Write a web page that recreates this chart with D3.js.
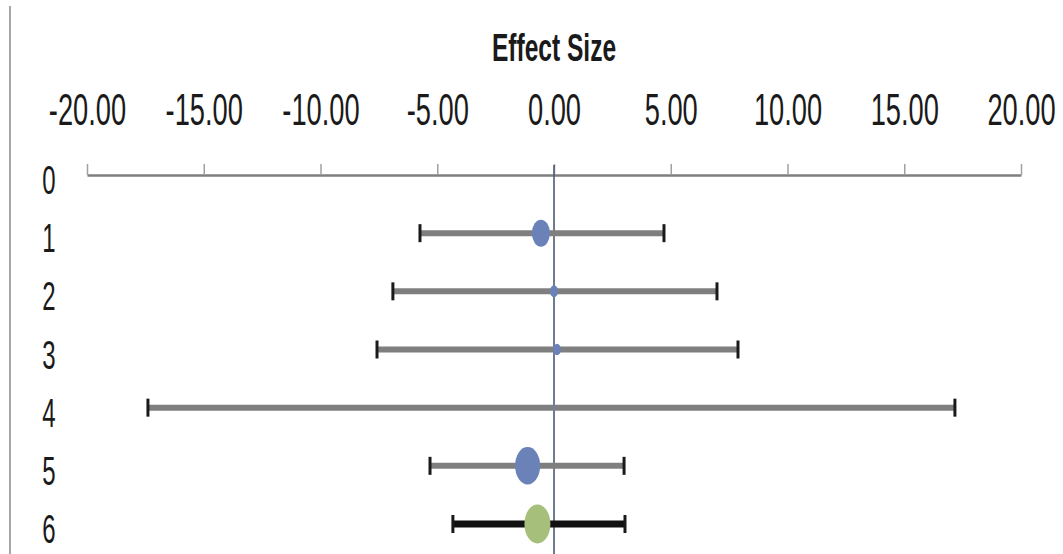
<!DOCTYPE html>
<html>
<head>
<meta charset="utf-8">
<script src="https://cdn.jsdelivr.net/npm/d3@7"></script>
<style>
  html, body { margin: 0; padding: 0; background: #fff; }
  svg { display: block; }
  text { font-family: "Liberation Sans", Arial, sans-serif; fill: #1a1a1a; }
</style>
</head>
<body>
<svg id="chart" width="1063" height="554"></svg>
<script>
// Forest plot: effect size and confidence interval for each study, plus the pooled estimate
const rowLabels = ["0", "1", "2", "3", "4", "5", "6"];
const studyRows = [1, 2, 3, 4, 5, 6];
const effect = [-0.56, 0.00, 0.13, 0.00, -1.13, -0.71];
const lower  = [-5.74, -6.90, -7.58, -17.39, -5.31, -4.33];
const upper  = [4.71, 6.98, 7.88, 17.17, 3.00, 3.04];
const weight = [13.0, 2.6, 2.4, 0.2, 25.0, 27.0];
const kind   = ["study", "study", "study", "study", "study", "pooled"];
const xTicks = [-20, -15, -10, -5, 0, 5, 10, 15, 20];
const title  = "Effect Size";

const svg = d3.select("#chart");
const W = 1063, H = 554;

const x = d3.scaleLinear().domain([-20, 20]).range([87, 1021]);
const y = d3.scaleLinear().domain([0, 6]).range([175, 524]);
const r = d3.scaleSqrt().domain([0, 25]).range([0, 12.5]);
const markerFill = { study: "#6a82b8", pooled: "#a6c07c" };
const barColor = { study: "#7f7f7f", pooled: "#111111" };

// chart area edge on the left
svg.append("line")
  .attr("x1", 10).attr("x2", 10).attr("y1", 6).attr("y2", H)
  .attr("stroke", "#a6a6a6").attr("stroke-width", 2);

// title
svg.append("text")
  .attr("transform", `translate(${x(0)},61) scale(0.63,1)`)
  .attr("text-anchor", "middle")
  .attr("font-size", 39)
  .attr("font-weight", "bold")
  .text(title);

// horizontal value axis along the top
const axis = d3.axisTop(x)
  .tickValues(xTicks)
  .tickFormat(d3.format(".2f"))
  .tickSizeInner(11)
  .tickSizeOuter(0)
  .tickPadding(39);

const gAxis = svg.append("g")
  .attr("transform", `translate(0,${y(0)})`)
  .call(axis);
gAxis.select(".domain").attr("stroke", "#7f7f7f").attr("stroke-width", 2.5);
gAxis.selectAll(".tick line").attr("stroke", "#a0a0a0").attr("stroke-width", 1.5);
gAxis.selectAll(".tick text")
  .attr("font-size", 44)
  .attr("fill", "#1a1a1a")
  .attr("font-family", "Liberation Sans, Arial, sans-serif")
  .attr("transform", "scale(0.62,1)")
  .text(d => d3.format(".2f")(d).replace("−", "-"));

// zero reference line
svg.append("line")
  .attr("x1", x(0)).attr("x2", x(0))
  .attr("y1", y(0) - 10).attr("y2", H)
  .attr("stroke", "#4e5a72").attr("stroke-width", 1.6);

// row labels
svg.append("g").selectAll("text")
  .data(rowLabels)
  .join("text")
  .attr("transform", (d, i) => `translate(49,${y(i) + 19}) scale(0.6,1)`)
  .attr("text-anchor", "middle")
  .attr("font-size", 40)
  .text(d => d);

const rows = studyRows.map((row, i) => ({
  row, est: effect[i], lo: lower[i], hi: upper[i], w: weight[i], kind: kind[i]
}));

const g = svg.append("g");

// interval bars
g.selectAll("line.bar")
  .data(rows)
  .join("line")
  .attr("class", "bar")
  .attr("x1", d => x(d.lo)).attr("x2", d => x(d.hi))
  .attr("y1", d => y(d.row)).attr("y2", d => y(d.row))
  .attr("stroke", d => barColor[d.kind])
  .attr("stroke-width", d => d.kind === "pooled" ? 7 : 6);

// end caps
const caps = rows.flatMap(d => [{ row: d.row, v: d.lo }, { row: d.row, v: d.hi }]);
g.selectAll("line.cap")
  .data(caps)
  .join("line")
  .attr("class", "cap")
  .attr("x1", d => x(d.v)).attr("x2", d => x(d.v))
  .attr("y1", d => y(d.row) - 9).attr("y2", d => y(d.row) + 9)
  .attr("stroke", "#1a1a1a").attr("stroke-width", 3);

// point estimates sized by weight
g.selectAll("ellipse")
  .data(rows)
  .join("ellipse")
  .attr("cx", d => x(d.est))
  .attr("cy", d => y(d.row))
  .attr("rx", d => r(d.w))
  .attr("ry", d => r(d.w) * 1.5)
  .attr("fill", d => markerFill[d.kind]);
</script>
</body>
</html>
